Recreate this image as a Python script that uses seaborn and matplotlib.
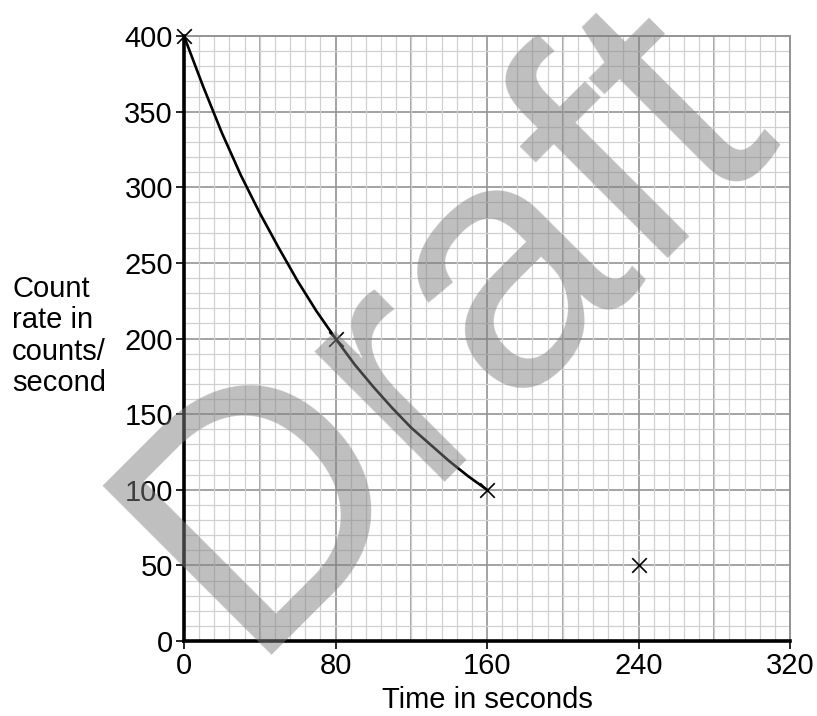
import numpy as np
import pandas as pd
import matplotlib
matplotlib.use("Agg")
import matplotlib.pyplot as plt
import seaborn as sns

# Data
curve_time = [0, 10, 20, 30, 40, 50, 60, 70, 80, 90, 100, 110, 120, 130, 140, 150, 160]
curve_rate = [400, 367, 336, 308, 283, 260, 238, 218, 200, 183, 168, 154, 141, 130, 119, 109, 100]
point_time = [0, 80, 160, 240]
point_rate = [400, 200, 100, 50]
x_ticks = [0, 80, 160, 240, 320]
y_ticks = [0, 50, 100, 150, 200, 250, 300, 350, 400]

sns.set_theme(style="white")
plt.rcParams["font.family"] = ["Liberation Sans", "DejaVu Sans"]
plt.rcParams["text.color"] = "black"
plt.rcParams["xtick.color"] = "black"
plt.rcParams["ytick.color"] = "black"
plt.rcParams["axes.labelcolor"] = "black"

FS = 21

fig = plt.figure(figsize=(8.17, 7.16), dpi=100)
ax = fig.add_axes([0.2252, 0.1047, 0.967 - 0.2252, 0.9497 - 0.1047])

curve_df = pd.DataFrame({"t": curve_time, "r": curve_rate})
pts_df = pd.DataFrame({"t": point_time, "r": point_rate})

# grid
ax.set_xlim(0, 320)
ax.set_ylim(0, 400)
ax.set_xticks(np.arange(0, 321, 8), minor=True)
ax.set_yticks(np.arange(0, 401, 10), minor=True)
ax.grid(which="minor", color="#d0d0d0", linewidth=0.9, zorder=0)
for gx in np.arange(40, 320, 40):
    ax.axvline(gx, color="#939393", linewidth=1.2, zorder=0.5)
for gy in np.arange(50, 400, 50):
    ax.axhline(gy, color="#939393", linewidth=1.2, zorder=0.5)

sns.lineplot(data=curve_df, x="t", y="r", sort=False, color="black",
             linewidth=1.9, ax=ax, zorder=3)
sns.scatterplot(data=pts_df, x="t", y="r", marker="x", s=110, color="black",
                linewidth=1.2, ax=ax, zorder=4, clip_on=False)

ax.set_xticks(x_ticks)
ax.set_yticks(y_ticks)
ax.set_xticklabels([str(v) for v in x_ticks], fontsize=FS)
ax.set_yticklabels([str(v) for v in y_ticks], fontsize=FS)
ax.tick_params(which="major", direction="out", length=6, width=1.2,
               color="black", labelcolor="black", pad=2, bottom=True, left=True)
ax.tick_params(which="minor", length=0)

for side in ["left", "bottom"]:
    ax.spines[side].set_color("black")
    ax.spines[side].set_linewidth(2.6)
    ax.spines[side].set_zorder(5)
for side in ["top", "right"]:
    ax.spines[side].set_color("#939393")
    ax.spines[side].set_linewidth(1.4)

ax.set_xlabel("Time in seconds", fontsize=FS, labelpad=4, color="black")
ax.set_ylabel("")

fig.text(12 / 817, 1 - 336 / 716, "Count\nrate in\ncounts/\nsecond",
         ha="left", va="center", fontsize=FS, linespacing=1.15, color="black")

# watermark
fig.text(0.298, 0.086, "Draft", rotation=45, rotation_mode="anchor",
         ha="left", va="baseline", fontsize=250, color="#808080", alpha=0.5,
         zorder=10)

fig.savefig("out.png", dpi=100)
